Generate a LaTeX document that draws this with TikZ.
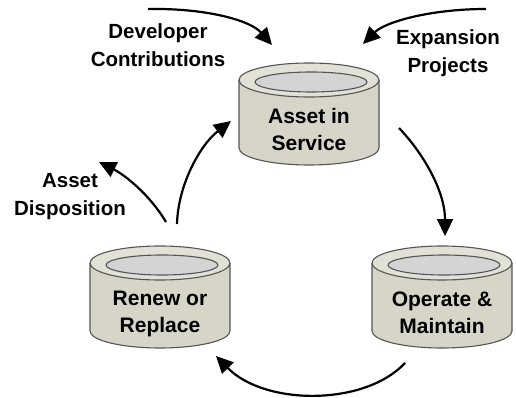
\documentclass[tikz,border=0pt]{standalone}
\usepackage{fontspec}
\setmainfont{Liberation Sans}
\usetikzlibrary{arrows.meta}

\definecolor{drumside}{HTML}{D6D5C8}
\definecolor{drumrim}{HTML}{E2E1D6}
\definecolor{drumhole}{HTML}{D4D4D4}
\definecolor{drumline}{HTML}{555555}

\tikzset{
  drumoutline/.style={draw=drumline, line width=1.1pt},
  % a drum: (0,0) is the top of its rim, it is 140 wide and 102 tall
  pics/drum/.style={code={
    \fill[drumside] (-70,17) -- (-70,85)
      arc[start angle=180, end angle=0, x radius=70, y radius=17] -- (70,17) -- cycle;
    \draw[drumoutline] (-70,17) -- (-70,85)
      arc[start angle=180, end angle=0, x radius=70, y radius=17] -- (70,17);
    \filldraw[drumoutline, fill=drumrim] (0,17) ellipse[x radius=70, y radius=17];
    \filldraw[drumoutline, fill=drumhole] (2,19) ellipse[x radius=56, y radius=10];
  }},
  drumtext/.style={font=\fontsize{21}{27}\selectfont\bfseries, align=center},
  flowlabel/.style={font=\fontsize{20.5}{28}\selectfont\bfseries, align=center},
  flow/.style={line width=2.2pt, -{Triangle[length=17pt, width=16pt]}},
}

\begin{document}
\begin{tikzpicture}[x=1pt, y=-1pt]
  \fill[white] (0,0) rectangle (516,398);
  \useasboundingbox (0,0) rectangle (516,398);

  % the three drums of the cycle
  \pic at (309,63)  {drum};
  \pic at (442,246) {drum};
  \pic at (160,246) {drum};

  \node[drumtext] (service) at (309,129.5) {Asset in\\Service};
  \node[drumtext] (operate) at (442,312.5) {Operate \&\\Maintain};
  \node[drumtext] (renew)   at (160,313.5) {Renew or\\Replace};

  % side labels
  \node[flowlabel] (developer)   at (158,45)  {Developer\\Contributions};
  \node[flowlabel] (expansion)   at (448,53)  {Expansion\\Projects};
  \node[flowlabel] (disposition) at (70,197)  {Asset\\Disposition};

  % arrow end points
  \coordinate (devA) at (148,9);
  \coordinate (devB) at (272,45);
  \coordinate (expA) at (486,9);
  \coordinate (expB) at (363,44);
  \coordinate (svcA) at (399,128);
  \coordinate (svcB) at (445,236);
  \coordinate (opA)  at (405,363);
  \coordinate (opB)  at (216,356);
  \coordinate (renA) at (177,224);
  \coordinate (renB) at (231,121);
  \coordinate (dspA) at (166,222);
  \coordinate (dspB) at (99,162);

  \draw[flow] (devA) .. controls (205,8) and (250,20) .. (devB);
  \draw[flow] (expA) .. controls (430,9) and (385,22) .. (expB);
  \draw[flow] (svcA) .. controls (422,152) and (445,190) .. (svcB);
  \draw[flow] (opA)  .. controls (365,406) and (265,406) .. (opB);
  \draw[flow] (renA) .. controls (178,185) and (200,145) .. (renB);
  \draw[flow] (dspA) .. controls (150,195) and (125,175) .. (dspB);
\end{tikzpicture}
\end{document}
